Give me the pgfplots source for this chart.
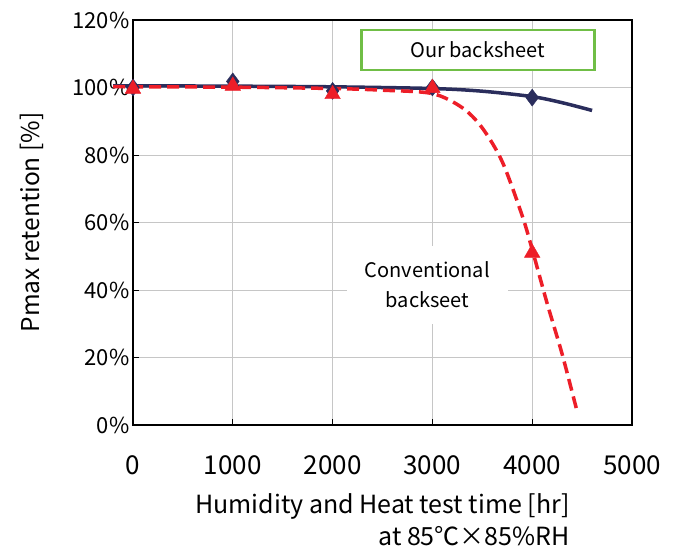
\documentclass[border=0pt]{standalone}
\usepackage{fontspec}
\setmainfont{Noto Sans CJK JP}
\usepackage{pgfplots}
\pgfplotsset{compat=1.18}
\definecolor{navy}{RGB}{42,45,92}
\definecolor{cred}{RGB}{237,30,40}
\definecolor{cgreen}{RGB}{112,190,70}

\begin{document}
\begin{tikzpicture}
\begin{axis}[
  name=ax,
  scale only axis, width=499pt, height=405pt,
  xmin=0, xmax=5000, ymin=0, ymax=120,
  xtick={0,1000,...,5000}, ytick={0,20,...,120},
  yticklabel={\pgfmathprintnumber{\tick}\%},
  /pgf/number format/assume math mode=true,
  /pgf/number format/1000 sep={},
  grid=major, grid style={gray!45, line width=0.8pt},
  axis line style={line width=1.3pt},
  tick style={black, line width=0.8pt}, major tick length=6pt,
  xtick pos=lower, ytick pos=left,
  xticklabel style={font=\fontsize{26}{28}\selectfont, yshift=-27pt},
  yticklabel style={font=\fontsize{22}{24}\selectfont},
  ylabel={Pmax retention [\%]},
  ylabel style={font=\fontsize{24.5}{26}\selectfont, yshift=22pt},
  xlabel={Humidity and Heat test time [hr]\\at 85℃×85\%RH},
  xlabel style={font=\fontsize{25}{32}\selectfont, align=right, yshift=-12pt},
  clip=false,
]
% Our backsheet - fitted curve
\addplot[navy, line width=3.5pt, smooth, no marks] coordinates {
  (-200,100.5) (0,100.5) (1000,100.4) (2000,100.2) (3000,99.7)
  (3500,98.9) (4000,97.3) (4300,95.5) (4600,93.2)
};
\addplot[navy, only marks, mark=diamond*, mark size=8.5pt] coordinates {
  (0,100) (1000,101.8) (2000,99) (3000,100) (4000,97)
};
% Conventional backsheet - fitted curve
\addplot[cred, line width=3.5pt, smooth, no marks, dash pattern=on 12pt off 6pt] coordinates {
  (-200,100.3) (0,100.2) (1000,100.1) (2000,99.7) (2500,99.2) (3000,98.2)
  (3300,94) (3500,88) (3700,78) (3900,62) (4000,52) (4150,36) (4300,21) (4450,4)
};
\addplot[cred, only marks, mark=triangle*, mark size=9pt] coordinates {
  (0,99.6) (1000,100.5) (2000,98) (3000,99.8) (4000,51)
};
\node[draw=cgreen, line width=2.5pt, fill=white, minimum width=233pt, minimum height=40pt,
  font=\fontsize{20}{22}\selectfont] at (axis cs:3455,111.1) {Our backsheet};
\node[fill=white, align=center, inner xsep=18pt, inner ysep=16pt,
  font=\fontsize{20}{30}\selectfont] at (axis cs:2950,41.5) {Conventional\\backseet};
\end{axis}
\path ([xshift=-133pt,yshift=-124pt]ax.south west) rectangle ([xshift=43pt,yshift=20pt]ax.north east);
\end{tikzpicture}
\end{document}
